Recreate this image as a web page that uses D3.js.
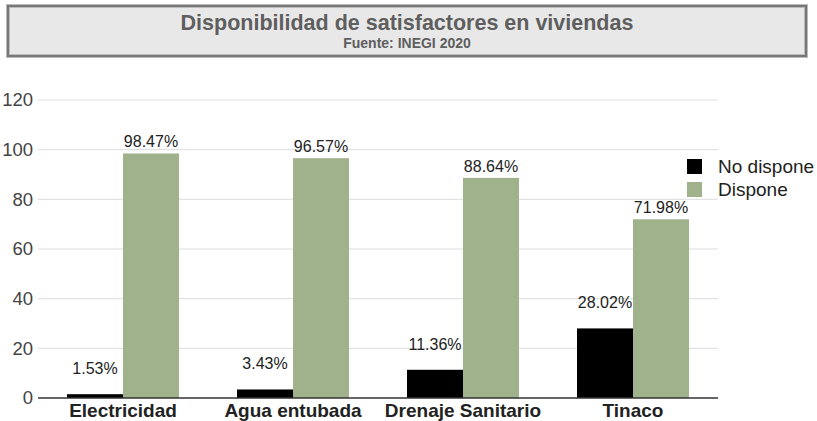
<!DOCTYPE html>
<html>
<head>
<meta charset="utf-8">
<script src="https://cdn.jsdelivr.net/npm/d3@7"></script>
<style>
  body { margin: 0; background: #fff; }
  svg { display: block; font-family: "Liberation Sans", Arial, sans-serif; }
</style>
</head>
<body>
<svg id="chart" width="817" height="421"></svg>
<script>
// Chart data
const categories = ['Electricidad', 'Agua entubada', 'Drenaje Sanitario', 'Tinaco'];
const seriesNames = ['No dispone', 'Dispone'];
const noDispone = [1.53, 3.43, 11.36, 28.02];
const dispone = [98.47, 96.57, 88.64, 71.98];
const yTicks = [0, 20, 40, 60, 80, 100, 120];
const colors = ['#000000', '#a0b28c'];

const svg = d3.select('#chart');
const margin = { left: 38, right: 718, top: 100, bottom: 398 };

// Title box
svg.append('rect')
    .attr('x', 8).attr('y', 6)
    .attr('width', 798).attr('height', 50)
    .attr('fill', '#e8e8e8')
    .attr('stroke', '#bbb')
    .attr('stroke-width', 4);
svg.append('rect')
    .attr('x', 8).attr('y', 6)
    .attr('width', 798).attr('height', 50)
    .attr('fill', 'none')
    .attr('stroke', '#777')
    .attr('stroke-width', 2);

svg.append('text')
    .attr('x', 407).attr('y', 30)
    .attr('text-anchor', 'middle')
    .attr('font-size', 21.5)
    .attr('font-weight', 'bold')
    .attr('fill', '#5e5e5e')
    .text('Disponibilidad de satisfactores en viviendas');
svg.append('text')
    .attr('x', 407).attr('y', 47.5)
    .attr('text-anchor', 'middle')
    .attr('font-size', 14)
    .attr('font-weight', 'bold')
    .attr('fill', '#5e5e5e')
    .text('Fuente: INEGI 2020');

// Scales
const x0 = d3.scaleBand()
    .domain(categories)
    .range([margin.left, margin.right])
    .padding(0);
const x1 = d3.scaleBand()
    .domain(seriesNames)
    .range([0, x0.bandwidth()])
    .paddingInner(0)
    .paddingOuter(0.518);
const y = d3.scaleLinear()
    .domain([0, 120])
    .range([margin.bottom, margin.top]);

// Gridlines
svg.append('g')
    .selectAll('line')
    .data(yTicks.filter(t => t > 0))
    .join('line')
    .attr('x1', margin.left).attr('x2', margin.right)
    .attr('y1', d => y(d)).attr('y2', d => y(d))
    .attr('stroke', '#dcdcdc')
    .attr('stroke-width', 1);

// Y axis labels
const yAxis = svg.append('g')
    .attr('transform', `translate(${margin.left},0)`)
    .call(d3.axisLeft(y).tickValues(yTicks).tickSize(0).tickPadding(5));
yAxis.select('.domain').remove();
yAxis.selectAll('text')
    .attr('font-size', 18.5)
    .attr('fill', '#444')
    .attr('font-family', '"Liberation Sans", Arial, sans-serif');

// Bars
const rows = categories.map((c, i) => ({
    category: c,
    values: [noDispone[i], dispone[i]]
}));

const groups = svg.append('g')
    .selectAll('g')
    .data(rows)
    .join('g')
    .attr('transform', d => `translate(${x0(d.category)},0)`);

groups.selectAll('rect')
    .data(d => d.values.map((v, j) => ({ key: seriesNames[j], value: v, idx: j })))
    .join('rect')
    .attr('x', d => x1(d.key))
    .attr('width', x1.bandwidth())
    .attr('y', d => y(d.value))
    .attr('height', d => y(0) - y(d.value))
    .attr('fill', d => colors[d.idx]);

groups.selectAll('text')
    .data(d => d.values.map((v, j) => ({ key: seriesNames[j], value: v, idx: j })))
    .join('text')
    .attr('x', d => x1(d.key) + x1.bandwidth() / 2)
    .attr('y', d => y(d.value) - (d.idx === 0 ? 20 : 6))
    .attr('text-anchor', 'middle')
    .attr('font-size', 16)
    .attr('fill', '#222')
    .text(d => d.value.toFixed(2) + '%');

// Baseline
svg.append('line')
    .attr('x1', margin.left).attr('x2', margin.right)
    .attr('y1', y(0)).attr('y2', y(0))
    .attr('stroke', '#333')
    .attr('stroke-width', 1.5);

// Category labels
svg.append('g')
    .selectAll('text')
    .data(categories)
    .join('text')
    .attr('x', d => x0(d) + x0.bandwidth() / 2)
    .attr('y', 417)
    .attr('text-anchor', 'middle')
    .attr('font-size', 19)
    .attr('font-weight', 'bold')
    .attr('fill', '#222')
    .text(d => d);

// Legend
const legend = svg.append('g')
    .selectAll('g')
    .data(seriesNames)
    .join('g')
    .attr('transform', (d, i) => `translate(687,${159 + i * 23})`);
legend.append('rect')
    .attr('width', 15).attr('height', 15)
    .attr('fill', (d, i) => colors[i]);
legend.append('text')
    .attr('x', 31).attr('y', 14)
    .attr('font-size', 19)
    .attr('fill', '#222')
    .text(d => d);
</script>
</body>
</html>
